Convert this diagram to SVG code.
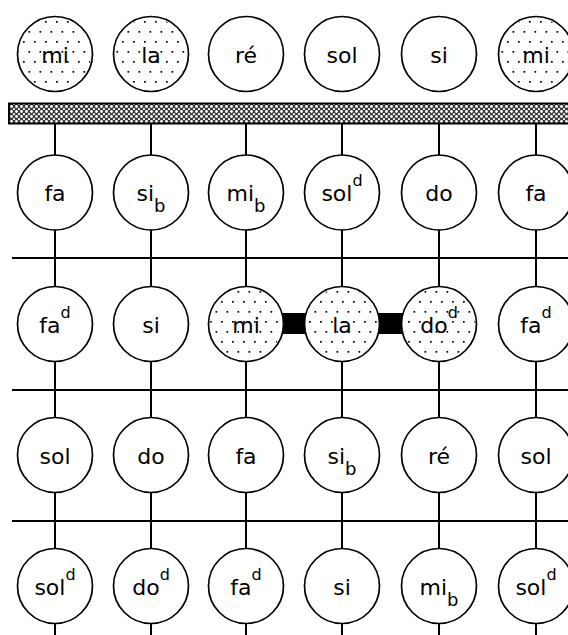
<svg xmlns="http://www.w3.org/2000/svg" width="568" height="635" viewBox="0 0 568 635">
<defs>
<pattern id="dots" width="11" height="20" patternUnits="userSpaceOnUse">
<rect x="1" y="1" width="1.7" height="1.7" fill="#000"/>
<rect x="6.5" y="11" width="1.7" height="1.7" fill="#000"/>
</pattern>
<pattern id="mesh" width="5" height="5" patternUnits="userSpaceOnUse">
<rect width="5" height="5" fill="#3a3a3a"/>
<circle cx="1.5" cy="1.5" r="1.4" fill="#fff"/>
<circle cx="4" cy="4" r="1.1" fill="#fff"/>
</pattern>
<style>
.ln{stroke:#000;stroke-width:2;fill:none}
.c{fill:#fff;stroke:#000;stroke-width:1.7}
.s{fill:url(#dots);stroke:none}
text{font-family:"DejaVu Sans","Liberation Sans",sans-serif;font-size:22px;fill:#000;text-anchor:middle}
.sup{font-size:16px}
.sub{font-size:18px}
</style>
</defs>
<rect width="568" height="635" fill="#fff"/>
<g id="bar"><rect x="9" y="103.5" width="562" height="20" fill="url(#mesh)" stroke="#000" stroke-width="2"/></g>
<g id="connectors">
<path class="ln" d="M55 124V635M151 124V635M246 124V635M342 124V635M439 124V635M536 124V635"/>
<path class="ln" d="M12 258H568M12 390H568M12 521H568"/>
<rect x="279" y="313" width="30" height="21" fill="#000"/>
<rect x="375" y="313" width="30" height="21" fill="#000"/>
</g>
<g id="r0c0"><circle class="c" cx="55" cy="54" r="37.5"/><circle class="s" cx="55" cy="54" r="36"/><text x="55" y="63">mi</text></g>
<g id="r0c1"><circle class="c" cx="151" cy="54" r="37.5"/><circle class="s" cx="151" cy="54" r="36"/><text x="151" y="63">la</text></g>
<g id="r0c2"><circle class="c" cx="246" cy="54" r="37.5"/><text x="246" y="63">ré</text></g>
<g id="r0c3"><circle class="c" cx="342" cy="54" r="37.5"/><text x="342" y="63">sol</text></g>
<g id="r0c4"><circle class="c" cx="439" cy="54" r="37.5"/><text x="439" y="63">si</text></g>
<g id="r0c5"><circle class="c" cx="536" cy="54" r="37.5"/><circle class="s" cx="536" cy="54" r="36"/><text x="536" y="63">mi</text></g>

<g id="r1c0"><circle class="c" cx="55" cy="192.5" r="37.5"/><text x="55" y="201">fa</text></g>
<g id="r1c1"><circle class="c" cx="151" cy="192.5" r="37.5"/><text x="151" y="201">si<tspan class="sub" dy="11">b</tspan></text></g>
<g id="r1c2"><circle class="c" cx="246" cy="192.5" r="37.5"/><text x="246" y="201">mi<tspan class="sub" dy="11">b</tspan></text></g>
<g id="r1c3"><circle class="c" cx="342" cy="192.5" r="37.5"/><text x="342" y="201">sol<tspan class="sup" dy="-15">d</tspan></text></g>
<g id="r1c4"><circle class="c" cx="439" cy="192.5" r="37.5"/><text x="439" y="201">do</text></g>
<g id="r1c5"><circle class="c" cx="536" cy="192.5" r="37.5"/><text x="536" y="201">fa</text></g>

<g id="r2c0"><circle class="c" cx="55" cy="324" r="37.5"/><text x="55" y="333">fa<tspan class="sup" dy="-15">d</tspan></text></g>
<g id="r2c1"><circle class="c" cx="151" cy="324" r="37.5"/><text x="151" y="333">si</text></g>
<g id="r2c2"><circle class="c" cx="246" cy="324" r="37.5"/><circle class="s" cx="246" cy="324" r="36"/><text x="246" y="333">mi</text></g>
<g id="r2c3"><circle class="c" cx="342" cy="324" r="37.5"/><circle class="s" cx="342" cy="324" r="36"/><text x="342" y="333">la</text></g>
<g id="r2c4"><circle class="c" cx="439" cy="324" r="37.5"/><circle class="s" cx="439" cy="324" r="36"/><text x="439" y="333">do<tspan class="sup" dy="-15">d</tspan></text></g>
<g id="r2c5"><circle class="c" cx="536" cy="324" r="37.5"/><text x="536" y="333">fa<tspan class="sup" dy="-15">d</tspan></text></g>

<g id="r3c0"><circle class="c" cx="55" cy="455" r="37.5"/><text x="55" y="464">sol</text></g>
<g id="r3c1"><circle class="c" cx="151" cy="455" r="37.5"/><text x="151" y="464">do</text></g>
<g id="r3c2"><circle class="c" cx="246" cy="455" r="37.5"/><text x="246" y="464">fa</text></g>
<g id="r3c3"><circle class="c" cx="342" cy="455" r="37.5"/><text x="342" y="464">si<tspan class="sub" dy="11">b</tspan></text></g>
<g id="r3c4"><circle class="c" cx="439" cy="455" r="37.5"/><text x="439" y="464">ré</text></g>
<g id="r3c5"><circle class="c" cx="536" cy="455" r="37.5"/><text x="536" y="464">sol</text></g>

<g id="r4c0"><circle class="c" cx="55" cy="586" r="37.5"/><text x="55" y="595">sol<tspan class="sup" dy="-15">d</tspan></text></g>
<g id="r4c1"><circle class="c" cx="151" cy="586" r="37.5"/><text x="151" y="595">do<tspan class="sup" dy="-15">d</tspan></text></g>
<g id="r4c2"><circle class="c" cx="246" cy="586" r="37.5"/><text x="246" y="595">fa<tspan class="sup" dy="-15">d</tspan></text></g>
<g id="r4c3"><circle class="c" cx="342" cy="586" r="37.5"/><text x="342" y="595">si</text></g>
<g id="r4c4"><circle class="c" cx="439" cy="586" r="37.5"/><text x="439" y="595">mi<tspan class="sub" dy="11">b</tspan></text></g>
<g id="r4c5"><circle class="c" cx="536" cy="586" r="37.5"/><text x="536" y="595">sol<tspan class="sup" dy="-15">d</tspan></text></g>
</svg>
